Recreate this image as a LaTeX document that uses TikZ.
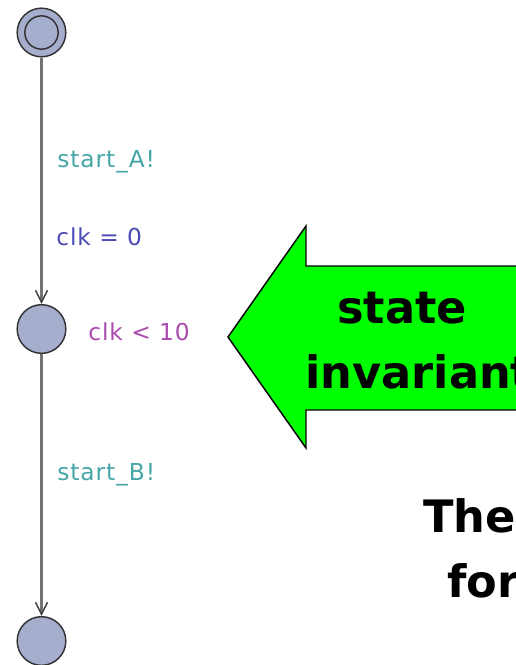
\documentclass[tikz,border=0pt]{standalone}
\usepackage{fontspec}
\setmainfont{DejaVu Sans}
\newfontfamily\lblfont[LetterSpace=4]{DejaVu Sans}
\usetikzlibrary{arrows.meta}
\definecolor{statefill}{RGB}{166,174,206}
\definecolor{syncc}{RGB}{70,165,165}
\definecolor{assignc}{RGB}{75,75,180}
\definecolor{invc}{RGB}{170,75,175}
\definecolor{arrowgreen}{RGB}{0,255,0}
\tikzset{
  location/.style={circle, draw=black!80, fill=statefill, line width=1.1pt, minimum size=36.5pt, inner sep=0pt},
  edge/.style={draw=black!55, line width=1.8pt, -{Straight Barb[length=9pt, width=9pt, line width=1.1pt, color=black!75]}},
  lbl/.style={anchor=base west, inner sep=0pt, font=\lblfont\fontsize{17.5}{21}\selectfont},
  big/.style={anchor=base west, inner sep=0pt, font=\fontsize{33.5}{40}\selectfont\bfseries}
}
\begin{document}
\begin{tikzpicture}[x=0.75pt, y=-0.75pt]
\useasboundingbox (0,0) rectangle (516,665);
\clip (0,0) rectangle (516,665);
% locations
\node[location] (s0) at (41.5,32.5) {};
\node[circle, draw=black!80, line width=1.1pt, minimum size=25pt, inner sep=0pt] (s0in) at (s0.center) {};
\node[location] (s1) at (41.5,329) {};
\node[location] (s2) at (41.5,641) {};
% edges
\draw[edge] (s0) -- (s1);
\draw[edge] (s1) -- (s2);
% labels
\node[lbl, text=syncc] (la) at (57,167.5) {start\_A!};
\node[lbl, text=assignc] (lb) at (56,245) {clk = 0};
\node[lbl, text=invc] (lc) at (88,340) {clk < 10};
\node[lbl, text=syncc] (ld) at (57,480) {start\_B!};
% green arrow
\draw[fill=arrowgreen, draw=black, line width=1.1pt, line join=miter]
  (228,337) -- (306,226) -- (306,266) -- (540,266) -- (540,410) -- (306,410) -- (306,448) -- cycle;
\node[big] (t1) at (337,323) {state};
\node[big] (t2) at (305,388) {invariant};
\node[big] (t3) at (423,532) {The};
\node[big] (t4) at (447,597) {for};
\end{tikzpicture}
\end{document}
